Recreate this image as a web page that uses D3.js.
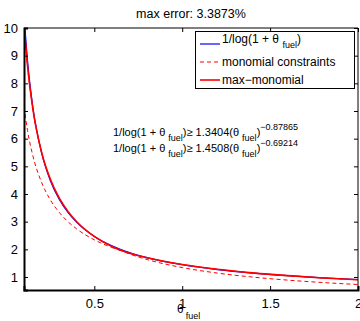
<!DOCTYPE html>
<html><head><meta charset="utf-8">
<script src="https://cdn.jsdelivr.net/npm/d3@7"></script>
<style>body{margin:0;background:#fff}svg{display:block;font-family:"Liberation Sans",Arial,sans-serif}</style>
</head><body><svg id="c" width="360" height="321"></svg>
<script>
const theta = [0.1,0.12,0.15,0.2,0.25,0.3,0.35,0.4,0.5,0.6,0.7,0.8,1.0,1.2,1.4,1.6,1.8,2.0];
const exact = [10.49,8.82,7.155,5.485,4.481,3.811,3.332,2.972,2.466,2.128,1.885,1.701,1.443,1.268,1.142,1.047,0.971,0.910];
const monoA = [10.136,8.635,7.098,5.513,4.531,3.861,3.372,2.998,2.465,2.100,1.834,1.631,1.3404,1.142,0.997,0.887,0.800,0.729];
const monoB = [7.141,6.294,5.393,4.420,3.787,3.338,3.000,2.736,2.344,2.066,1.857,1.693,1.4508,1.279,1.149,1.048,0.966,0.898];
const maxMono = [10.136,8.635,7.098,5.513,4.531,3.861,3.372,2.998,2.465,2.100,1.857,1.693,1.4508,1.279,1.149,1.048,0.966,0.898];
const xTicks = [0.5,1,1.5,2];
const yTicks = [1,2,3,4,5,6,7,8,9,10];
const titleText = "max error: 3.3873%";

const svg = d3.select("#c");
const L=24,R=358,T=28,B=290;
const x = d3.scaleLinear().domain([0.1,2]).range([L,R]);
const y = d3.scaleLinear().domain([0.53,10]).range([B,T]);

svg.append("defs").append("clipPath").attr("id","clip").append("rect")
  .attr("x",L).attr("y",T).attr("width",R-L).attr("height",B-T);

const line = d3.line().x((d,i)=>x(theta[i])).y(d=>y(d)).curve(d3.curveMonotoneX);
const g = svg.append("g").attr("clip-path","url(#clip)");
g.append("path").attr("d",line(exact)).attr("fill","none").attr("stroke","#0000ff").attr("stroke-width",1.2);
g.append("path").attr("d",line(monoA)).attr("fill","none").attr("stroke","#ff0000").attr("stroke-width",1).attr("stroke-dasharray","4,3");
g.append("path").attr("d",line(monoB)).attr("fill","none").attr("stroke","#ff0000").attr("stroke-width",1).attr("stroke-dasharray","4,3");
g.append("path").attr("d",line(maxMono)).attr("fill","none").attr("stroke","#ff0000").attr("stroke-width",1.6);

// box
svg.append("line").attr("x1",L).attr("x2",R).attr("y1",T).attr("y2",T).attr("stroke","#000").attr("stroke-width",1);
svg.append("line").attr("x1",R).attr("x2",R).attr("y1",T).attr("y2",B).attr("stroke","#000").attr("stroke-width",1);

// axes with inward ticks
const xa = svg.append("g").attr("transform",`translate(0,${B})`)
  .call(d3.axisBottom(x).tickValues(xTicks).tickSize(-4).tickPadding(9).tickFormat(d=>d));
const ya = svg.append("g").attr("transform",`translate(${L},0)`)
  .call(d3.axisLeft(y).tickValues(yTicks).tickSize(-4).tickPadding(6).tickFormat(d=>d));
const xt = svg.append("g").attr("transform",`translate(0,${T})`)
  .call(d3.axisTop(x).tickValues(xTicks).tickSize(-4).tickFormat(""));
const yr = svg.append("g").attr("transform",`translate(${R},0)`)
  .call(d3.axisRight(y).tickValues(yTicks).tickSize(-4).tickFormat(""));
[xt,yr].forEach(a=>{a.select(".domain").remove();});
[xa,ya].forEach(a=>{a.select(".domain").attr("stroke","#000").attr("stroke-width",2);
  a.selectAll("text").attr("font-size",13).attr("fill","#000").attr("font-family","Liberation Sans, Arial, sans-serif");});
svg.selectAll(".tick line").attr("stroke","#000");

// title
svg.append("text").attr("x",191).attr("y",18).attr("text-anchor","middle").attr("font-size",12.5).text(titleText);

// x label
const xl = svg.append("text").attr("x",177).attr("y",313).attr("font-size",12);
xl.append("tspan").text("θ");
xl.append("tspan").attr("dx",2).attr("dy",6).attr("font-size",9).text("fuel");

// annotations
function ann(yy, coef, expo){
  const t = svg.append("text").attr("x",113).attr("y",yy).attr("font-size",11);
  t.append("tspan").text("1/log(1 + θ ");
  t.append("tspan").attr("dy",5).attr("font-size",9).text("fuel");
  t.append("tspan").attr("dy",-5).text(")≥ "+coef+"(θ ");
  t.append("tspan").attr("dy",5).attr("font-size",9).text("fuel");
  t.append("tspan").attr("dy",-5).text(")");
  t.append("tspan").attr("dy",-6).attr("font-size",9).text(expo);
}
ann(136,"1.3404","−0.87865");
ann(152,"1.4508","−0.69214");

// legend
const lg = svg.append("g");
lg.append("rect").attr("x",195.5).attr("y",31.5).attr("width",159).attr("height",57).attr("fill","#fff").attr("stroke","#000").attr("stroke-width",1);
const items=[{c:"#0000ff",d:null,w:1.2,y:44},{c:"#ff0000",d:"4,3",w:1,y:62},{c:"#ff0000",d:null,w:1.6,y:80}];
items.forEach(it=>{
  lg.append("line").attr("x1",200).attr("x2",220).attr("y1",it.y).attr("y2",it.y).attr("stroke",it.c).attr("stroke-width",it.w).attr("stroke-dasharray",it.d);
});
const t1 = lg.append("text").attr("x",222).attr("y",43).attr("font-size",12);
t1.append("tspan").text("1/log(1 + θ ");
t1.append("tspan").attr("dy",5).attr("font-size",9).text("fuel");
t1.append("tspan").attr("dy",-5).text(")");
lg.append("text").attr("x",222).attr("y",66).attr("font-size",12).text("monomial constraints");
lg.append("text").attr("x",222).attr("y",84).attr("font-size",12).text("max−monomial");
</script></body></html>
